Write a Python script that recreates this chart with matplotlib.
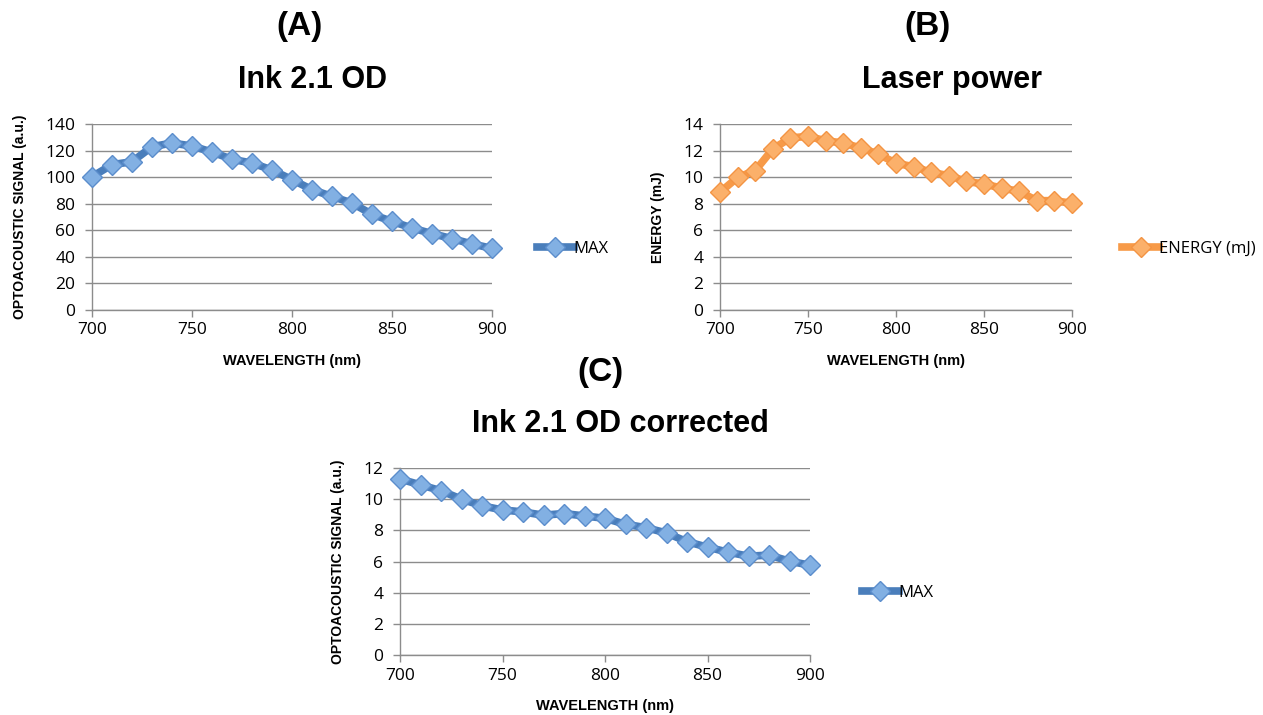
import matplotlib
matplotlib.use("Agg")
import matplotlib.pyplot as plt

wavelength = [700, 710, 720, 730, 740, 750, 760, 770, 780, 790, 800,
              810, 820, 830, 840, 850, 860, 870, 880, 890, 900]
ink_signal = [100.3, 109.4, 111.6, 122.9, 125.7, 123.4, 118.9, 113.4, 110.6, 105.4, 98.1,
              90.6, 85.5, 80.5, 72.0, 66.7, 61.7, 57.5, 53.7, 49.7, 46.4]
laser_energy = [8.86, 9.98, 10.49, 12.12, 12.95, 13.07, 12.74, 12.57, 12.19, 11.74, 11.04,
                10.79, 10.36, 10.11, 9.68, 9.48, 9.18, 8.93, 8.23, 8.23, 8.03]
corrected_signal = [11.29, 10.92, 10.54, 10.0, 9.57, 9.31, 9.18, 8.97, 9.08, 8.92, 8.77,
                    8.39, 8.17, 7.83, 7.27, 6.92, 6.60, 6.34, 6.41, 6.02, 5.76]

W, H = 1263, 715
fig = plt.figure(figsize=(W / 100, H / 100), dpi=100)
fig.patch.set_facecolor("white")

TICK_FONT = "Open Sans"
BOLD_FONT = "Liberation Sans"


def make_axes(l, r, t, b):
    return fig.add_axes([l / W, 1 - b / H, (r - l) / W, (b - t) / H])


def style(ax, ymax, ystep, ylabel):
    ax.set_xlim(700, 900)
    ax.set_ylim(0, ymax)
    ax.set_xticks([700, 750, 800, 850, 900])
    ax.set_yticks(list(range(0, ymax + 1, ystep)))
    for s in ["top", "right"]:
        ax.spines[s].set_visible(False)
    for s in ["left", "bottom"]:
        ax.spines[s].set_color("#8c8c8c")
        ax.spines[s].set_linewidth(1.0)
    ax.yaxis.grid(True, color="#8c8c8c", linewidth=1.0)
    ax.set_axisbelow(True)
    ax.tick_params(axis="both", colors="#8c8c8c", length=5, width=1.0,
                   labelcolor="black", labelsize=12.5)
    ax.tick_params(axis="y", pad=7)
    ax.tick_params(axis="x", pad=4)
    for lab in ax.get_xticklabels() + ax.get_yticklabels():
        lab.set_fontfamily(TICK_FONT)
    ax.set_xlabel("WAVELENGTH (nm)", fontsize=10.5, fontweight="bold",
                  fontfamily=BOLD_FONT, labelpad=11)
    ax.set_ylabel(ylabel, fontsize=10, fontweight="bold",
                  fontfamily=BOLD_FONT, labelpad=13)


def plot_series(ax, y, line_c, face_c, edge_c, label):
    ax.plot(wavelength, y, color=line_c, linewidth=5.5, marker="D",
            markersize=10, markerfacecolor=face_c, markeredgecolor=edge_c,
            markeredgewidth=1.0, label=label, clip_on=False, zorder=3)


BLUE_LINE = "#4a7ebb"
BLUE_FACE = "#82b0e3"
BLUE_EDGE = "#5b8dcc"
OR_LINE = "#f79a48"
OR_FACE = "#fbb06a"
OR_EDGE = "#f39443"

LEG = dict(loc="center left", frameon=False, handlelength=2.2,
           handletextpad=0.0, prop={"family": TICK_FONT, "size": 12})

# (A)
axA = make_axes(92, 492, 124, 310)
plot_series(axA, ink_signal, BLUE_LINE, BLUE_FACE, BLUE_EDGE, "MAX")
style(axA, 140, 20, "OPTOACOUSTIC SIGNAL (a.u.)")
axA.legend(bbox_to_anchor=(1.075, 0.33), **LEG)

# (B)
axB = make_axes(720, 1072, 124, 310)
plot_series(axB, laser_energy, OR_LINE, OR_FACE, OR_EDGE, "ENERGY (mJ)")
style(axB, 14, 2, "ENERGY (mJ)")
axB.legend(bbox_to_anchor=(1.10, 0.33), **LEG)

# (C)
axC = make_axes(400, 810, 468, 655)
plot_series(axC, corrected_signal, BLUE_LINE, BLUE_FACE, BLUE_EDGE, "MAX")
style(axC, 12, 2, "OPTOACOUSTIC SIGNAL (a.u.)")
axC.legend(bbox_to_anchor=(1.09, 0.33), **LEG)


def ftext(x, y, s, size):
    fig.text(x / W, 1 - y / H, s, ha="center", va="center", fontsize=size,
             fontweight="bold", fontfamily=BOLD_FONT)


ftext(300, 27, "(A)", 24)
ftext(313, 80, "Ink 2.1 OD", 22)
ftext(928, 27, "(B)", 24)
ftext(952, 80, "Laser power", 22)
ftext(600, 372, "(C)", 24)
ftext(620, 424, "Ink 2.1 OD corrected", 22)

fig.savefig("out.png", dpi=100)
